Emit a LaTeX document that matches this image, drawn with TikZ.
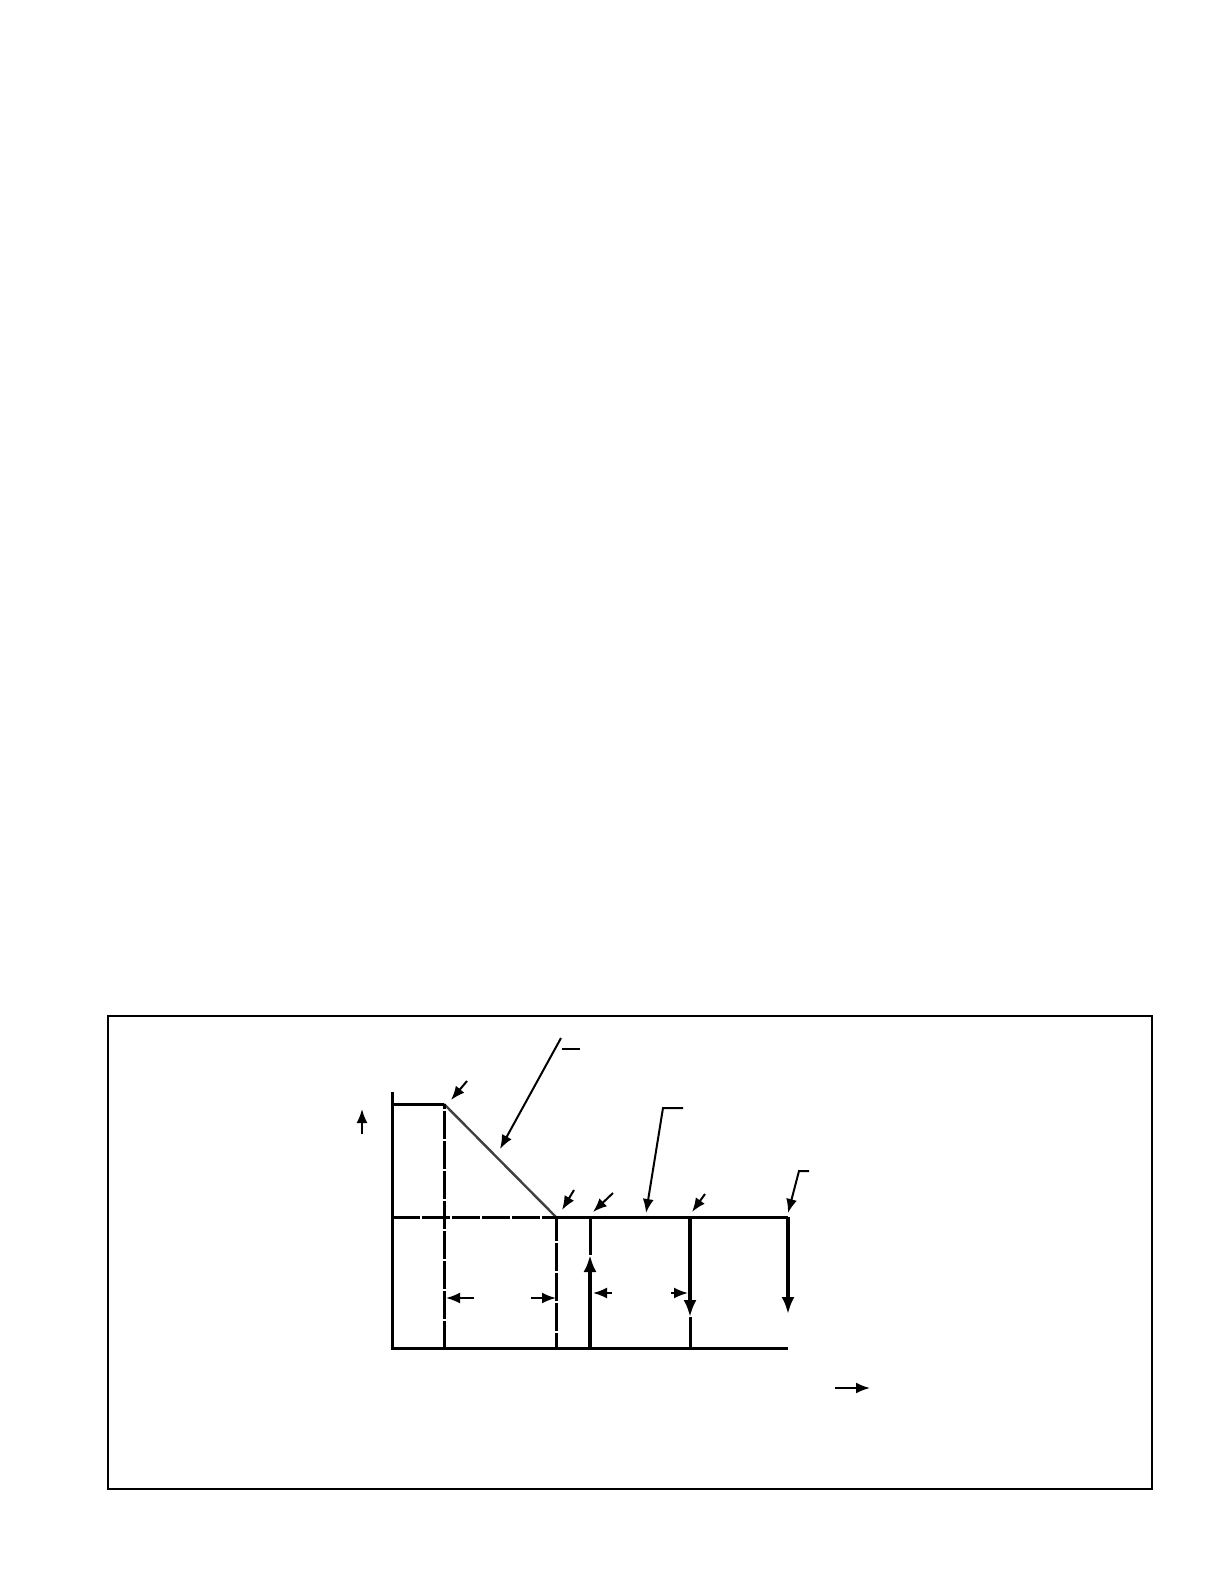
\documentclass[tikz,border=0pt]{standalone}
\usetikzlibrary{arrows.meta}
\begin{document}
\begin{tikzpicture}[x=0.5bp,y=-0.5bp,>={Latex[length=7bp,width=5.5bp]},
		axis/.style={line width=1.5bp},
		brk/.style={line width=1.5bp,dash pattern=on 13.8bp off 1.2bp},
		thin/.style={line width=1bp},
		lead/.style={->,line width=1bp},
		force/.style={-{Latex[length=8.5bp,width=6.5bp]},line width=2bp}]

		\useasboundingbox (0,0) rectangle (1224,1584);
		\draw[line width=1bp] (108,1016) rectangle (1152,1489);

		% profile
		\coordinate (top) at (392,1092);
		\coordinate (o)   at (392,1348);
		\coordinate (e)   at (788,1348);
		\coordinate (q_1) at (392,1104);
		\coordinate (q_2) at (444,1104);
		\coordinate (q_3) at (556,1217);
		\coordinate (m_0) at (392,1217);
		\coordinate (m_1) at (788,1217);

		\draw[axis] (top) -- (o) -- (e);
		\draw[axis] (q_1) -- (q_2);
		\draw[line width=1.2bp,black!75] (q_2) -- (q_3);
		\draw[brk,dash phase=11.5bp] (q_2) -- (q_2 |- o);
		\draw[brk] (m_0) -- (q_3);
		\draw[axis] (q_3) -- (m_1);
		\draw[brk,dash phase=2bp] (q_3) -- (q_3 |- o);

		% loads
		\coordinate (f_1) at (590,1255);
		\coordinate (f_2) at (690,1317);
		\coordinate (f_3) at (788,1314);
		\draw[force] (f_1 |- o) -- (f_1);
		\draw[axis] (f_1 |- m_0) -- (f_1);
		\draw[force] (f_2 |- m_0) -- (f_2);
		\draw[axis] (f_2) -- (f_2 |- o);
		\draw[force] (m_1) -- (f_3);

		% spans
		\coordinate (d_1) at (474,1298);
		\coordinate (d_2) at (446,1298);
		\coordinate (d_3) at (531,1298);
		\coordinate (d_4) at (556,1298);
		\coordinate (d_5) at (612,1293);
		\coordinate (d_6) at (593,1293);
		\coordinate (d_7) at (671,1293);
		\coordinate (d_8) at (688,1293);
		\draw[lead] (d_1) -- (d_2);
		\draw[lead] (d_3) -- (d_4);
		\draw[lead] (d_5) -- (d_6);
		\draw[lead] (d_7) -- (d_8);

		% leaders
		\coordinate (l_1) at (467,1081);
		\coordinate (t_1) at (451,1100);
		\coordinate (l_2) at (561,1038);
		\coordinate (t_2) at (500,1149);
		\coordinate (k_1) at (562,1049);
		\coordinate (k_2) at (580,1049);
		\coordinate (l_3) at (683,1108);
		\coordinate (b_3) at (663,1108);
		\coordinate (t_3) at (646,1213);
		\coordinate (l_4) at (809,1171);
		\coordinate (b_4) at (799,1171);
		\coordinate (t_4) at (788,1213);
		\coordinate (l_5) at (574,1190);
		\coordinate (t_5) at (562,1210);
		\coordinate (l_6) at (613,1193);
		\coordinate (t_6) at (593,1212);
		\coordinate (l_7) at (705,1194);
		\coordinate (t_7) at (692,1212);
		\draw[lead] (l_1) -- (t_1);
		\draw[lead] (l_2) -- (t_2);
		\draw[thin] (k_1) -- (k_2);
		\draw[lead] (l_3) -- (b_3) -- (t_3);
		\draw[lead] (l_4) -- (b_4) -- (t_4);
		\draw[lead] (l_5) -- (t_5);
		\draw[lead] (l_6) -- (t_6);
		\draw[lead] (l_7) -- (t_7);

		% axis arrows
		\coordinate (y_0) at (362,1134);
		\coordinate (y_1) at (362,1109);
		\coordinate (x_0) at (835,1388);
		\coordinate (x_1) at (870,1388);
		\draw[lead] (y_0) -- (y_1);
		\draw[lead] (x_0) -- (x_1);
	\end{tikzpicture}
\end{document}
